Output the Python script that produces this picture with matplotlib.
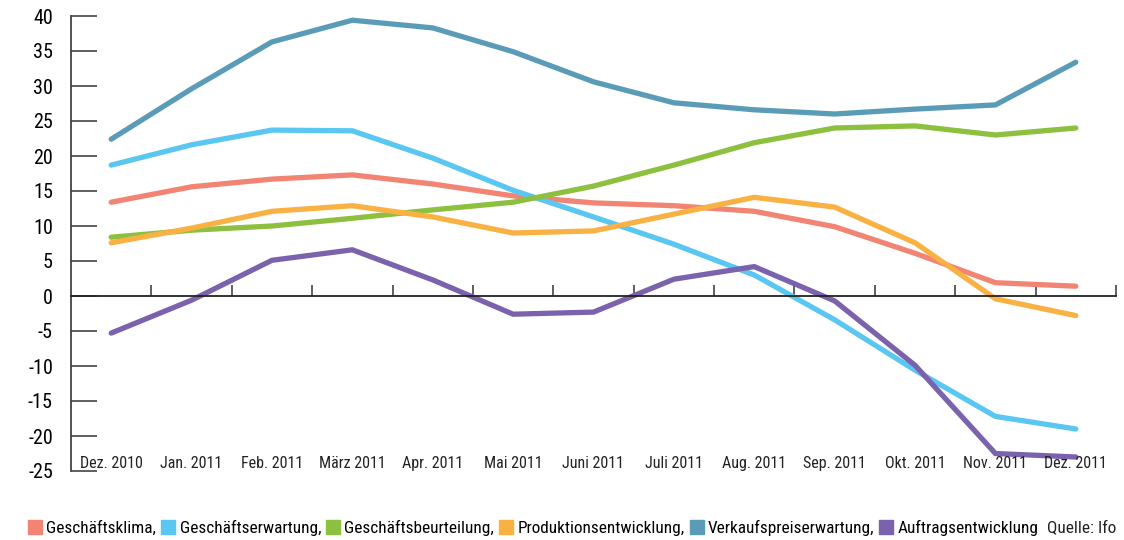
import matplotlib
matplotlib.use("Agg")
import matplotlib.pyplot as plt
from matplotlib.lines import Line2D

plt.rcParams['font.family'] = ['Roboto Condensed', 'Archivo Narrow', 'DejaVu Sans']

months = ["Dez. 2010", "Jan. 2011", "Feb. 2011", "März 2011", "Apr. 2011", "Mai 2011",
          "Juni 2011", "Juli 2011", "Aug. 2011", "Sep. 2011", "Okt. 2011", "Nov. 2011", "Dez. 2011"]

geschaeftsklima = [13.4, 15.6, 16.7, 17.3, 16.0, 14.3, 13.3, 12.9, 12.1, 9.9, 6.1, 1.9, 1.4]
geschaeftserwartung = [18.7, 21.6, 23.7, 23.6, 19.7, 15.1, 11.3, 7.4, 3.0, -3.4, -10.6, -17.2, -19.0]
geschaeftsbeurteilung = [8.4, 9.4, 10.0, 11.1, 12.3, 13.4, 15.7, 18.7, 21.9, 24.0, 24.3, 23.0, 24.0]
produktionsentwicklung = [7.6, 9.7, 12.1, 12.9, 11.3, 9.0, 9.3, 11.7, 14.1, 12.7, 7.6, -0.4, -2.8]
verkaufspreiserwartung = [22.4, 29.6, 36.3, 39.4, 38.3, 34.9, 30.6, 27.6, 26.6, 26.0, 26.7, 27.3, 33.4]
auftragsentwicklung = [-5.3, -0.6, 5.1, 6.6, 2.3, -2.6, -2.3, 2.4, 4.2, -0.7, -9.9, -22.5, -23.0]

series = [
    ("Geschäftsklima,", geschaeftsklima, "#f28473"),
    ("Geschäftserwartung,", geschaeftserwartung, "#5ac6f2"),
    ("Geschäftsbeurteilung,", geschaeftsbeurteilung, "#8dc03f"),
    ("Produktionsentwicklung,", produktionsentwicklung, "#f9b144"),
    ("Verkaufspreiserwartung,", verkaufspreiserwartung, "#5a9cb8"),
    ("Auftragsentwicklung", auftragsentwicklung, "#7b62ad"),
]
y_ticks = list(range(-25, 41, 5))

fig = plt.figure(figsize=(11.24, 5.40), dpi=100)
ax = fig.add_axes([71/1124, 1-471/540, (1116-71)/1124, (471-16)/540])

x = list(range(len(months)))
for label, vals, col in series:
    ax.plot(x, vals, color=col, lw=3.8, solid_capstyle='round', solid_joinstyle='miter')

ax.set_xlim(-0.5, len(months) - 0.5)
ax.set_ylim(-25, 40)
for s in ['top', 'right']:
    ax.spines[s].set_visible(False)
ax.spines['bottom'].set_position(('data', 0))
ax.spines['bottom'].set_color('#222222')
ax.spines['left'].set_color('#444444')
ax.spines['bottom'].set_linewidth(1.3)
ax.spines['left'].set_linewidth(1.3)

ax.set_yticks(y_ticks)
ax.set_yticklabels([str(v) for v in y_ticks], fontsize=14.5)
ax.tick_params(axis='y', direction='in', length=19, width=1.1, color='#333333', pad=13)

ax.set_xticks([i + 0.5 for i in range(len(months))])
ax.set_xticklabels([])
ax.tick_params(axis='x', direction='in', length=8, width=1.1, color='#333333')

for i, m in enumerate(months):
    ax.text(i, -23.9, m, ha='center', va='center', fontsize=11.5, color='#222222')

handles = [Line2D([], [], marker='s', linestyle='none', markersize=10,
                  markerfacecolor=col, markeredgecolor=col) for _, _, col in series]
labels = [lab for lab, _, _ in series]
fig.legend(handles, labels, loc='center left', bbox_to_anchor=(0.026, 0.022),
           ncol=6, frameon=False, fontsize=12.4, handlelength=0.7, handletextpad=0.3,
           columnspacing=0.35, borderpad=0, borderaxespad=0)
fig.text(0.993, 0.022, "Quelle: Ifo", ha='right', va='center', fontsize=12.4, color='#222222')

fig.savefig("out.png", dpi=100)
